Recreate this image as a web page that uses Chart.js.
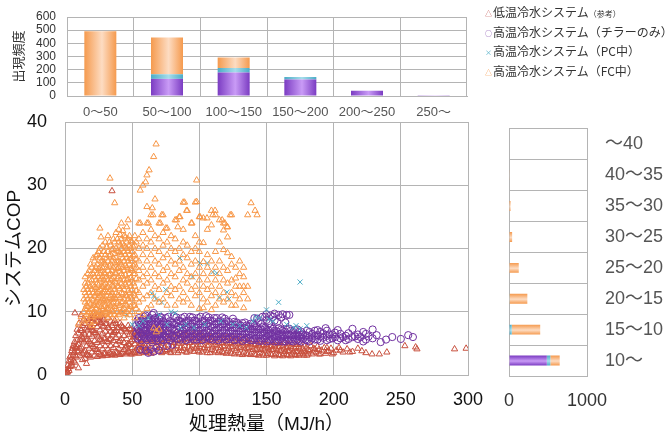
<!DOCTYPE html>
<html>
<head>
<meta charset="utf-8">
<script src="https://cdn.jsdelivr.net/npm/chart.js@4.4.1/dist/chart.umd.min.js"></script>
<style>
  body { margin: 0; background: #fff; }
  #wrap { position: relative; width: 668px; height: 434px; overflow: hidden; }
  canvas { position: absolute; }
  .legend { position: absolute; left: 485px; top: 2px; font-family: 'Noto Sans CJK JP', sans-serif; font-size: 12px; color: #333; }
  .legend div { height: 19.5px; line-height: 19.5px; white-space: nowrap; }
  .mk { display: inline-block; width: 8px; font-size: 7px; vertical-align: 1px; }
  .sm { font-size: 8px; }
</style>
</head>
<body>
<div id="wrap">
  <canvas id="histChart" width="480" height="125" style="left:0;top:0;width:480px;height:125px"></canvas>
  <canvas id="scatterChart" width="668" height="434" style="left:0;top:0;width:668px;height:434px"></canvas>
  <canvas id="copChart" width="178" height="334" style="left:490px;top:100px;width:178px;height:334px"></canvas>
  <div class="legend">
    <div><span class="mk" style="color:#C0504D">△</span>低温冷水システム<span class="sm">（参考）</span></div>
    <div><span class="mk" style="color:#7030A0">○</span>高温冷水システム（チラーのみ）</div>
    <div><span class="mk" style="color:#4BACC6">×</span>高温冷水システム（PC中）</div>
    <div><span class="mk" style="color:#F79646">△</span>高温冷水システム（FC中）</div>
  </div>
</div>
<script>
// --- histogram of load (top) ---
const histLabels = ['0～50', '50～100', '100～150', '150～200', '200～250', '250～'];
const histChiller = [0, 130, 178, 125, 40, 5];
const histPC = [3, 35, 35, 20, 0, 0];
const histFC = [488, 280, 79, 0, 0, 0];

// --- histogram of COP (right) ---
const copLabels = ['～40', '40～35', '35～30', '30～25', '25～20', '20～15', '15～10', '10～'];
const copChiller = [0, 0, 0, 0, 0, 0, 0, 485];
const copPC = [0, 0, 0, 0, 0, 8, 35, 45];
const copFC = [0, 5, 20, 40, 125, 227, 365, 120];

// --- scatter: [処理熱量 MJ/h, システムCOP] ---
const lowTempPts = [
  [0.5,0.3],[1,0.8],[1.5,0.4],[2,1.5],[2.5,1],[3,2.2],[3,0.7],[3.7,1.3],[4,3],[4.5,2.4],[5,3.8],[5,1.9],[5.5,1.4],[6,4.6],[6,3.1],[6.5,2.2],
  [7,5.2],[7,3.6],[7.4,9.8],[7.5,2],[8,6.2],[8,4.3],[8.5,2.8],[9,5.5],[9,7.2],[9.5,3.6],[10,1.1],[10,6.6],[10,4.8],[10.5,8.2],[11,5.6],[11,3.1],
  [11.5,7.3],[12,9.5],[12,4.4],[12.5,6.1],[13,2.4],[13,3.4],[13,7.8],[14,5.2],[15,2.6],[15,3.8],[15,6.4],[15,8.1],[16,4.6],[16,1.8],[17,3.1],
  [17,5.6],[17,7.1],[17,8.6],[18,4.2],[18,6.4],[19,2.8],[19,5],[19,7.5],[19,8.9],[20,3.6],[20,6.1],[21,4.5],[21,7],[21,9.1],[22,3.1],[22,5.4],
  [22,8.1],[23,4],[23,6.6],[24,2.9],[24,5.1],[24,7.6],[24,9.3],[25,3.6],[25,6.1],[25,8.5],[26,4.6],[26,7.1],[27,3.1],[27,5.5],[27,8.2],[27,9.5],
  [28,4.1],[28,6.6],[29,3.4],[29,5.8],[29,7.7],[29,8.8],[30,4.6],[30,6.9],[31,3.1],[31,5.3],[31,8.1],[32,4.1],[32,6.3],[32,9.1],[33,3.5],[33,5.6],
  [33,7.4],[34,4.6],[34,8.5],[35,3.2],[35,6.3],[35,7.8],[35,29.1],[36,4.3],[36,5.4],[37,3.1],[37,6.8],[37,8.6],[38,4.8],[38,5.9],[39,3.5],[39,7.4],
  [40,4.2],[40,6.3],[41,3.2],[41,5.4],[41,8.2],[42,4.6],[42,6.9],[43,3.6],[43,7.6],[44,5.1],[44,6.2],[45,3.3],[45,4.4],[45,7.1],[46,5.7],[47,3.7],
  [47,4.9],[47,7.8],[48,6.4],[49,3.3],[49,5.3],[49,7.2],[50,4.3],[51,3.6],[51,6],[51,6.9],[52,4.9],[53,3.9],[53,6.3],[54,5.4],[55,3.4],[55,4.6],
  [55,7],[56,5.9],[57,3.8],[57,5],[58,6.5],[59,4.3],[60,3.5],[60,5.5],[61,6.6],[62,4.6],[63,3.8],[63,5.8],[64,6.8],[65,4.9],[66,3.6],[66,5.7],
  [67,4.4],[68,6.3],[69,3.9],[69,5.1],[70,6.9],[71,4.6],[72,3.5],[72,5.6],[73,6.4],[74,4.3],[75,3.8],[75,5.3],[76,6.7],[77,4.7],[78,3.6],[78,5.8],
  [79,6.4],[80,4.4],[81,3.9],[81,5.1],[82,6.6],[83,4.6],[84,3.5],[84,5.6],[85,6.3],[86,4.3],[87,3.8],[87,5.2],[88,6.6],[89,4.6],[90,3.6],[90,5.7],
  [91,6.2],[92,4.4],[93,3.9],[93,5.1],[94,6.7],[95,4.7],[96,3.7],[96,5.8],[97,6.3],[98,4.4],[99,3.8],[99,5.3],[100,6.6],[101,4.8],[102,3.6],
  [102,5.7],[103,6.2],[104,4.3],[105,3.9],[105,5.2],[106,6.4],[107,4.7],[108,3.5],[108,5.6],[109,6.1],[110,4.4],[111,3.8],[111,5.2],[112,6.4],
  [113,4.6],[114,3.5],[114,5.5],[115,6.2],[116,4.3],[117,3.7],[117,5.1],[118,5.9],[119,4.6],[120,3.4],[120,5.4],[121,6.1],[122,4.2],[123,3.6],
  [123,5.1],[124,5.8],[125,4.5],[126,3.3],[126,5.3],[127,6],[128,4.2],[129,3.5],[129,5],[130,5.7],[131,4.4],[132,3.2],[132,5.1],[133,5.8],
  [134,4.1],[135,3.4],[135,4.9],[136,5.5],[137,4.3],[138,3.2],[138,5],[139,5.6],[140,4],[141,3.3],[141,4.8],[142,5.3],[143,4.2],[144,3.1],
  [144,4.9],[145,5.5],[146,4],[147,3.3],[147,4.6],[148,5.2],[149,4.1],[150,3.1],[150,4.8],[151,5.4],[152,3.9],[153,3.3],[153,4.5],[154,5.1],
  [155,4],[156,3],[156,4.7],[157,5.3],[158,3.8],[159,3.2],[159,4.4],[160,5],[161,3.9],[162,3],[162,4.6],[163,5.1],[164,3.7],[165,3.2],[165,4.3],
  [166,4.9],[167,3.8],[168,3],[168,4.5],[169,5],[170,3.6],[171,3.2],[171,4.2],[172,4.8],[173,3.7],[174,3.1],[174,4.4],[175,4.9],[176,3.6],
  [177,3.3],[177,4.2],[178,4.7],[179,3.6],[180,3.1],[180,4.4],[182,3.8],[183,4.6],[184,3.3],[186,4.1],[187,3.6],[188,4.5],[190,3.3],[191,3.9],
  [193,4.3],[194,3.4],[196,3.8],[198,4.2],[200,3.5],[202,3.9],[204,4.3],[207,3.6],[210,4.1],[214,3.7],[218,4.2],[221,3.8],[224,3.5],[228.6,3.3],
  [234,3.3],[239.6,3.6],[253,4.6],[261,4.4],[262,4.1],[290,4.1],[298.6,4.2],
  // denser part of the band
  [2,0.5],[3.5,2.8],[4.5,1.5],[5.5,4.2],[6.5,3.5],[7.5,4.5],[8,3],[9,4.5],[10,3.8],[11,4.2],[12,5.5],[12,7],[13,5.8],[14,3.6],[14,6.6],[14,8.8],
  [16,3.2],[16,5.5],[16,7.4],[18,3],[18,5.3],[18,7.6],[18,8.9],[20,4.8],[20,7.2],[20,8.5],[22,4.2],[22,6.7],[22,9.4],[24,4],[24,6.3],[24,8.5],
  [26,3.2],[26,5.6],[26,8.3],[26,9.2],[28,3],[28,5.3],[28,7.7],[28,9],[30,3.4],[30,5.8],[30,8.1],[32,3.1],[32,5.2],[32,7.5],[34,3.3],[34,5.7],
  [34,6.9],[36,3.3],[36,6.7],[36,8.2],[38,3.6],[38,7],[38,8.1],[40,3.3],[40,5.3],[40,7.5],[42,3.4],[42,5.7],[42,7.8],[44,4],[44,7.3],[46,3.5],
  [46,4.6],[46,6.8],[48,3.6],[48,4.8],[48,7.3],[50,3.3],[50,5.6],[50,6.6],[52,3.5],[52,6],[52,6.9],[54,3.6],[54,4.4],[54,6.6],[56,3.8],[56,4.9],
  [56,6.8],[58,3.6],[58,4.6],[58,5.6],[60,4.5],[60,6.5],[62,3.6],[62,5.5],[61,4.2],[64,5.2],[64,3.4],[67,5.3],[67,6.1],[70,4.3],[70,5.5],[73,3.7],
  [73,5],[76,4],[76,5.7],[79,3.5],[79,5.2],[82,4.1],[82,5.5],[85,3.8],[85,5],[88,4.2],[88,5.6],[91,3.6],[91,5.1],[94,4.1],[94,5.5],[97,4.2],[97,5.2],
  [100,3.6],[100,4.5],[100,5.8],[103,4.1],[103,5.4],[106,3.5],[106,4.6],[106,5.8],[109,4],[109,5.2],[112,3.6],[112,4.8],[112,5.7],[115,3.9],[115,5],
  [118,3.5],[118,4.5],[118,5.5],[121,3.8],[121,4.9],[124,3.4],[124,4.4],[124,5.4],[127,3.8],[127,4.7],[130,3.3],[130,4.3],[130,5.2],[133,3.6],
  [133,4.6],[136,3.3],[136,4.2],[136,5.1],[139,3.6],[139,4.5],[142,3.2],[142,4],[142,4.9],[145,3.5],[145,4.4],[148,3.1],[148,3.9],[148,4.8],
  [151,3.4],[151,4.3],[154,3.2],[154,4],[154,4.6],[157,3.4],[157,4.2],[160,3.1],[160,3.8],[160,4.5],[163,3.4],[163,4.1],[166,3.1],[166,3.8],
  [166,4.5],[169,3.3],[169,4.1],[172,3.1],[172,3.7],[172,4.4],[175,3.3],[175,4.1],[178,3.1],[178,3.8],[181,3.3],[181,4],[185,3.6],[185,4.2],
  [189,3.3],[189,4],[195,3.7],[195,4.3],[199,3.3],[205,3.9],[212,3.6]
];
const chillerPts = [
  [53,6.5],[53,7.8],[55,6],[55,7.1],[55,8.3],[55,9],[56,4],[57,5.5],[57,6.5],[57,7.6],[57,8.6],[59,6],[59,7],[59,8],[59,9.2],[60,3.9],[61,5.5],
  [61,6.6],[61,7.5],[61,8.5],[62,3.5],[63,6],[63,7],[63,8],[63,9],[64,4.1],[65,5.5],[65,6.5],[65,7.5],[65,8.5],[65,9.5],[66,3.7],[67,6],[67,7],
  [67,8],[67,9],[68,4.3],[69,5.5],[69,6.5],[69,7.5],[69,8.5],[70,3.9],[71,6],[71,7],[71,8],[71,9.2],[73,5.5],[73,6.5],[73,7.5],[73,8.5],[75,6],
  [75,7],[75,8],[75,9],[76,4.6],[78,5.5],[78,6.5],[78,7.5],[78,8.5],[80,4.8],[81,6],[81,7],[81,8],[81,9.3],[84,5.7],[84,6.7],[84,7.7],[84,8.6],
  [87,6],[87,7],[87,8],[87,9],[90,5.5],[90,6.5],[90,7.5],[90,8.5],[93,6],[93,7],[93,8],[93,9.2],[96,5.6],[96,6.6],[96,7.6],[96,8.6],[99,6],[99,7],
  [99,8],[99,9],[102,5.5],[102,6.5],[102,7.5],[102,8.5],[105,6],[105,7],[105,8],[105,9.3],[108,5.7],[108,6.7],[108,7.7],[108,8.6],[111,6],[111,7],
  [111,8],[111,9],[114,5.5],[114,6.5],[114,7.5],[114,8.4],[117,6],[117,7],[117,8],[117,9.1],[120,5.6],[120,6.6],[120,7.6],[120,8.5],[123,6],[123,7],
  [123,7.9],[126,5.5],[126,6.5],[126,7.5],[126,8.4],[129,6],[129,7],[129,8],[132,5.4],[132,6.4],[132,7.4],[132,8.2],[135,5.9],[135,6.9],[135,7.8],
  [138,5.5],[138,6.4],[138,7.3],[138,8.1],[141,5.8],[141,6.8],[141,7.7],[141,9],[144,5.4],[144,6.3],[144,7.2],[144,8.4],[147,5.8],[147,6.7],
  [147,7.6],[147,9.2],[150,5.3],[150,6.2],[150,7.1],[150,8.7],[150,9.6],[153,5.7],[153,6.6],[153,7.5],[153,9.4],[156,5.3],[156,6.1],[156,7],
  [156,8.6],[156,9.7],[159,5.6],[159,6.5],[159,7.4],[159,9.5],[162,5.3],[162,6.1],[162,7],[162,9.6],[165,5.6],[165,6.4],[165,7.2],[165,9.5],
  [168,5.4],[168,6.2],[168,7],[171,5.6],[171,6.3],[171,7.1],[174,5.4],[174,6.1],[174,6.8],[177,5.7],[177,6.4],[180,5.5],[180,6.2],[180,7],
  [184,5.8],[184,6.5],[188,5.6],[188,6.3],[188,7.1],[192,5.9],[192,6.6],[194,7.4],[197,5.7],[197,6.4],[201,6],[201,6.7],[205,5.8],[205,6.5],
  [209,6.2],[209,5.5],[214,7.3],[214,6],[218,6.4],[218,5.7],[222,6.8],[222,5.3],[226,6.1],[229,7.2],[229,5.8],[235,5.2],[239,5.6],[243.6,6],
  [250,5.7],[255.5,6.3],[259,6],
  // denser part of the band
  [54,5.8],[54,7.3],[54,8.6],[56,6.7],[56,7.9],[58,6.2],[58,7.2],[58,8.8],[60,5.8],[60,7],[60,8.2],[60,9.4],[62,6.3],[62,7.8],[62,8.8],[64,5.8],
  [64,7.2],[64,8.2],[66,6.3],[66,7.4],[66,8.8],[66,9.8],[68,5.8],[68,7.2],[68,8.3],[70,6.4],[70,7.6],[70,8.8],[72,5.6],[72,6.8],[72,8],[72,9],
  [74,6.2],[74,7.3],[74,8.3],[77,6],[77,7],[77,8],[77,9.2],[80,6.2],[80,7.3],[80,8.2],[83,6.2],[83,7.2],[83,8.2],[83,9.1],[86,5.6],[86,6.5],
  [86,7.5],[86,8.5],[89,6.2],[89,7.2],[89,8.2],[89,9.2],[92,5.7],[92,6.6],[92,7.6],[92,8.6],[95,6.1],[95,7.1],[95,8.1],[95,9.1],[98,5.6],[98,6.5],
  [98,7.5],[98,8.5],[101,6.1],[101,7.1],[101,8.1],[101,9.2],[104,5.7],[104,6.6],[104,7.6],[104,8.6],[107,6.1],[107,7.1],[107,8.2],[107,9.1],
  [110,5.6],[110,6.5],[110,7.5],[110,8.5],[113,6.1],[113,7.1],[113,8.1],[113,9],[116,5.7],[116,6.6],[116,7.6],[116,8.5],[119,6.1],[119,7.1],
  [119,8.1],[119,8.9],[122,5.7],[122,6.6],[122,7.5],[122,8.4],[125,6],[125,7],[125,8],[125,8.9],[128,5.6],[128,6.5],[128,7.4],[128,8.3],[131,6],
  [131,6.9],[131,7.8],[134,5.6],[134,6.5],[134,7.4],[134,8.3],[137,5.9],[137,6.8],[137,7.7],[140,5.5],[140,6.3],[140,7.2],[140,8.1],[143,5.8],
  [143,6.7],[143,7.6],[143,8.9],[146,5.4],[146,6.3],[146,7.2],[146,8.1],[149,5.8],[149,6.6],[149,7.5],[149,9.2],[152,5.4],[152,6.2],[152,7],
  [152,8.2],[155,5.7],[155,6.5],[155,7.3],[155,9.2],[158,5.3],[158,6.1],[158,6.9],[158,8.4],[161,5.7],[161,6.4],[161,7.2],[161,9.1],[164,5.3],
  [164,6],[164,6.8],[164,8.3],[167,5.6],[167,6.4],[167,7.3],[167,9.5],[170,5.3],[170,6],[170,6.8],[173,5.6],[173,6.4],[173,7.2],[176,5.3],
  [176,6],[176,6.8],[179,5.6],[179,6.3],[182,5.3],[182,6],[182,6.8],[186,5.6],[186,6.2],[186,7],[190,5.4],[190,6.1],[190,6.8],[195,5.5],[195,6.2],
  [195,7],[199,5.8],[199,6.4],[203,5.5],[203,7.1],[207,6],[211,5.7],[211,6.6],[216,6.1],[220,6],[224,5.6],[224,6.5],[232,6.3]
];
const pcPts = [
  [43,10],[46,9.5],[50,8],[55,7.8],[58,8.5],[62,9],[64.7,12.9],[66,12.5],[68,12],[70,9.5],[72,11.5],[75,13.5],[76,8],[79,10],[82,9.8],
  [85.6,18.5],[86,7.5],[90,8],[95,15.5],[96,7.5],[100.5,17.7],[104,8],[106,17.7],[110,16.3],[113,16.1],[115,12.2],[116,8.5],[120.6,13.1],
  [122,12],[125,8],[130,7.8],[135,7.5],[140,8.5],[142,9.2],[145,9],[150,10.3],[152,8.8],[155,8.5],[159,11.5],[165,8],[170,7.5],[172,7.8],
  [175,14.7],[175,7.3],[180,7.8]
];
const fcPts = [
  [10,8],[12,9.2],[14,8.5],[16,8.8],[18,8.2],[20,7.8],[22,8.5],[14,10],[14,12],[14,13.5],[16,9.5],[16,11],[16,12.5],[16,14],
  [18,10],[18,11.5],[18,13],[18,15],[18,16.5],[20,9.5],[20,10.5],[20,12],[20,13.5],[20,15],[20,17],
  [22,10],[22,11],[22,12.5],[22,14],[22,15.5],[22,16.5],[22,18],[24,9.5],[24,11],[24,12],[24,13],[24,14.5],[24,16],[24,17.5],[24,19],
  [26,10],[26,11.5],[26,12.5],[26,13.5],[26,15],[26,16],[26,17],[26,18.5],[26,20],[28,9.5],[28,10.5],[28,12],[28,13],[28,14],[28,15.5],[28,17],[28,18],[28,20.5],
  [30,10],[30,11],[30,12],[30,13.5],[30,14.5],[30,16],[30,17.5],[30,19],[30,21],[32,9],[32,10.5],[32,11.5],[32,13],[32,14],[32,15],[32,16.5],[32,18],[32,19.5],[32,22],
  [34,9.5],[34,11],[34,12.5],[34,13.5],[34,15],[34,16],[34,17.5],[34,19],[34,20.5],[36,10],[36,11.5],[36,12],[36,14],[36,15.5],[36,17],[36,18.5],[36,20],[36,21.5],
  [38,9],[38,10.5],[38,12],[38,13],[38,14.5],[38,16],[38,17],[38,18.5],[38,20],[38,22.5],[40,9.5],[40,11],[40,12.5],[40,14],[40,15.5],[40,17],[40,18],[40,19.5],[40,21],[40,23],
  [42,10],[42,11.5],[42,13],[42,14.5],[42,16],[42,17.5],[42,19],[42,20],[42,21.5],[42,24],[44,9],[44,10.5],[44,12],[44,13.5],[44,15],[44,16.5],[44,18],[44,19.5],[44,20.5],[44,22],
  [46,10],[46,11],[46,12.5],[46,14],[46,15],[46,17],[46,18.5],[46,20],[46,21],[46,23.4],[48,9.5],[48,11.5],[48,13],[48,14.5],[48,16],[48,17.5],[48,19],[48,20.5],[48,22],
  [50,10],[50,12],[50,13.5],[50,15],[50,16.5],[50,18],[50,19.5],[50,21],[52,9],[52,11],[52,12.5],[52,14],[52,16],[52,17.5],[52,19],[52,20.5],[52,22],
  [55,10],[55,11.5],[55,13],[55,15],[55,16.5],[55,18],[55,20],[55,21.5],[55,24],[58,9.5],[58,12],[58,14],[58,15.5],[58,17],[58,19],[58,20.5],[58,22.5],
  [61,10.5],[61,12.5],[61,14.5],[61,16],[61,18],[61,20],[61,21.5],[61,24],[61,26.6],[64,11],[64,13],[64,15],[64,17],[64,19],[64,21],[64,23],[64,25.3],
  [67,12],[67,14],[67,16],[67,18],[67,20],[67,22],[67,27.8],[70,11.5],[70,13.5],[70,15.5],[70,17.5],[70,19.5],[70,21.5],[70,24],
  [73,12],[73,14.5],[73,16.5],[73,18.5],[73,20.5],[73,22.5],[73,25.3],[76,11],[76,13],[76,15],[76,17],[76,19],[76,21],[76,23.2],
  [79,12.5],[79,14],[79,16],[79,18],[79,20],[79,22],[82,11],[82,13.5],[82,15.5],[82,17.5],[82,19.5],[82,21.5],[82,24.5],
  [85,12],[85,14],[85,16.5],[85,18],[85,20],[85,25],[88,11.5],[88,13],[88,15],[88,17],[88,19],[88,21],[88,23],[88,27.3],
  [91,12],[91,14.5],[91,16],[91,18.5],[91,20.5],[91,26],[94,11],[94,13.5],[94,15.5],[94,17.5],[94,19.5],[94,24],
  [97,12.5],[97,14],[97,16],[97,18],[97,20],[97,22],[97,27.3],[100,10.5],[100,13],[100,15],[100,17],[100,19.5],[100,21],[100,25],
  [103,10.6],[103,12],[103,14],[103,16],[103,17.9],[103,20.9],[103,24.8],[106,11.5],[106,13.5],[106,15],[106,17],[106,19],[106,23],
  [109,10.3],[109,12.5],[109,14],[109,16],[109,18],[109,23.7],[109,26],[112,11],[112,13],[112,15],[112,17],[112,19.5],[112,25.3],
  [115,12],[115,14],[115,16],[115,18],[115,21],[115,24.5],[118,11.5],[118,13],[118,15],[118,17],[118,19.8],[118,22.9],[118,24],
  [121,12],[121,14.5],[121,16.5],[121,19.3],[121,21.8],[121,23.4],[124,11],[124,13],[124,15],[124,17.5],[124,18.7],[124,25.3],
  [127,11],[127,12.5],[127,14],[127,15.3],[127,17],[130,12],[130,14],[130,16],[130,18],[133,10.6],[133,13],[133,14],[133,15.5],[133,17],
  [136,12],[136,14],[136,25.3],[138.5,27.2],[141.5,26],[143,25.3],
  [33.5,31.1],[37,27.2],[56,29.2],[58,30],[60,30.5],[61,31.6],[62.6,32.4],[66,34.5],[67.8,36.5],[98,30.8],[98,27.4],[26,23.2],[26.8,21.8],
  [47,24.5],[56,24],[62,24],[71,24],[83,24.5],[75,23.2],[89,27.3],[90.5,26],[85.6,25],[84,23.4],[65,26.4],[72,25.3],[65.5,25.3],[94.5,24],
  [100.5,25],[105.7,24.8],[110,25.3],[111.7,26],[117,24.5],[119,24],[120.6,23.4],[123,25.3],[66,7.4],[68,6.8],[70,7.2],
  // dense core of the cloud
  [15,10.5],[15,11.5],[15,13],[15,14.5],[15,15.5],[17,9.8],[17,10.8],[17,12],[17,13.5],[17,14.5],[17,16],
  [19,9.2],[19,10.3],[19,11.2],[19,12.5],[19,14],[19,15.8],[19,17.5],[21,9.8],[21,11],[21,11.8],[21,13],[21,14.2],[21,16],[21,18.5],
  [23,9.5],[23,10.5],[23,11.5],[23,12.8],[23,13.8],[23,15],[23,17],[23,18.8],[25,9.3],[25,10.2],[25,11.2],[25,12.2],[25,13.2],[25,14.2],[25,15.5],[25,16.8],[25,19.5],
  [27,9.8],[27,10.8],[27,11.8],[27,12.8],[27,14],[27,15.2],[27,16.5],[27,18],[27,19],[29,9.6],[29,10.8],[29,11.8],[29,13.2],[29,14.2],[29,15],[29,16.2],[29,17.8],[29,19.5],
  [31,9.8],[31,10.5],[31,11.8],[31,12.5],[31,13.8],[31,15.5],[31,17],[31,18.5],[31,20.2],[33,9.5],[33,10.2],[33,11.2],[33,12.2],[33,13.2],[33,14.5],[33,15.8],[33,17.2],[33,18.8],[33,21],
  [35,10.2],[35,11.2],[35,12],[35,13],[35,14.2],[35,15.2],[35,16.5],[35,18],[35,19.8],[37,9.5],[37,10.8],[37,12.2],[37,13.5],[37,14.8],[37,16.2],[37,17.8],[37,19.2],[37,21],
  [39,10],[39,11.3],[39,12.6],[39,14],[39,15.2],[39,16.8],[39,18],[39,19.6],[39,21.5],[41,9.8],[41,11],[41,12.2],[41,13.6],[41,15],[41,16.4],[41,17.8],[41,19.3],[41,20.5],[41,22.2],
  [43,10.2],[43,11.6],[43,12.8],[43,14],[43,15.6],[43,17],[43,18.5],[43,20.8],[43,22.8],[45,9.7],[45,11.2],[45,12.6],[45,14.3],[45,15.8],[45,17.3],[45,19],[45,20.2],[45,21.8],
  [47,10.4],[47,12],[47,13.3],[47,15.2],[47,16.6],[47,18],[47,19.6],[47,21.5],[49,10.8],[49,12.3],[49,14],[49,15.4],[49,16.8],[49,18.4],[49,20],[49,21.2],
  [51,11],[51,12.8],[51,14.5],[51,16],[51,17.2],[51,18.8],[51,20.2],[53,10.5],[53,12],[53,13.3],[53,15.2],[53,17],[53,18.3],[53,21]
];

const FONT = "'Liberation Sans', 'Noto Sans CJK JP', sans-serif";
Chart.defaults.font.family = FONT;
Chart.defaults.animation = false;
Chart.defaults.plugins.legend.display = false;
Chart.defaults.plugins.tooltip.enabled = false;
Chart.defaults.events = [];

const GRID = '#b4b4b4';

// bars look shaded: darker at the edges, light in the middle
function shade(edge, mid, across) {
    return (ctx) => {
        const el = ctx.element;
        if (!el || !isFinite(el.x) || !isFinite(el.y)) return edge;
        const c = ctx.chart.ctx;
        let g;
        if (across === 'x') {
            g = c.createLinearGradient(el.x - el.width / 2, 0, el.x + el.width / 2, 0);
        } else {
            g = c.createLinearGradient(0, el.y - el.height / 2, 0, el.y + el.height / 2);
        }
        g.addColorStop(0, edge);
        g.addColorStop(0.55, mid);
        g.addColorStop(1, edge);
        return g;
    };
}

const toXY = pts => pts.map(p => ({ x: p[0], y: p[1] }));

// top histogram
const histChart = new Chart(document.getElementById('histChart'), {
    type: 'bar',
    data: {
        labels: histLabels,
        datasets: [
            { label: 'チラーのみ', data: histChiller, backgroundColor: shade('#7B3CC2', '#C99BF6', 'x') },
            { label: 'PC中', data: histPC, backgroundColor: shade('#4BACC6', '#A6DDEB', 'x') },
            { label: 'FC中', data: histFC, backgroundColor: shade('#F59A4E', '#FDDCC2', 'x') }
        ]
    },
    options: {
        responsive: false,
        devicePixelRatio: 1,
        layout: { padding: { left: 0, top: 11, right: 13, bottom: 0 } },
        datasets: { bar: { categoryPercentage: 1, barPercentage: 0.48 } },
        scales: {
            x: {
                stacked: true,
                grid: { color: GRID, drawTicks: false },
                border: { color: GRID },
                ticks: { color: '#555', padding: 9, font: { size: 13 }, maxRotation: 0 },
                afterFit: s => { s.height = 29; }
            },
            y: {
                stacked: true, min: 0, max: 600,
                grid: { color: GRID, drawTicks: false },
                border: { color: GRID },
                ticks: { stepSize: 100, autoSkip: false, color: '#333', padding: 11, font: { size: 12, lineHeight: 1 } },
                title: { display: true, text: '出現頻度', color: '#333', font: { size: 13 }, padding: { top: 12 } },
                afterFit: s => { s.width = 67; }
            }
        }
    }
});

// main scatter
const scatterChart = new Chart(document.getElementById('scatterChart'), {
    type: 'scatter',
    data: {
        datasets: [
            { label: '高温冷水システム（FC中）', data: toXY(fcPts), pointStyle: 'triangle', borderColor: '#F79646', order: 0 },
            { label: '高温冷水システム（PC中）', data: toXY(pcPts), pointStyle: 'crossRot', borderColor: '#4BACC6', order: 1 },
            { label: '高温冷水システム（チラーのみ）', data: toXY(chillerPts), pointStyle: 'circle', borderColor: '#7030A0', order: 2 },
            { label: '低温冷水システム（参考）', data: toXY(lowTempPts), pointStyle: 'triangle', borderColor: '#C8503E', order: 3 }
        ]
    },
    options: {
        responsive: false,
        devicePixelRatio: 1,
        layout: { padding: { left: 0, top: 122, right: 200, bottom: 0 } },
        elements: { point: { radius: 3.6, borderWidth: 1, backgroundColor: 'rgba(0,0,0,0)' } },
        scales: {
            x: {
                type: 'linear', min: 0, max: 300,
                grid: { color: GRID, drawTicks: false },
                border: { color: GRID },
                ticks: { stepSize: 50, color: '#111', padding: 14, font: { size: 18 } },
                title: { display: true, text: '処理熱量（MJ/h）', color: '#111', font: { size: 19, lineHeight: 1 }, padding: 0 },
                afterFit: s => { s.height = 59; }
            },
            y: {
                min: 0, max: 40,
                grid: { color: GRID, drawTicks: false },
                border: { color: GRID },
                ticks: { stepSize: 10, color: '#111', padding: 18, font: { size: 18 } },
                title: { display: true, text: 'システムCOP', color: '#111', font: { size: 19 }, padding: { top: 3 } },
                afterFit: s => { s.width = 65; }
            }
        }
    }
});

// right histogram of COP
const copChart = new Chart(document.getElementById('copChart'), {
    type: 'bar',
    data: {
        labels: copLabels,
        datasets: [
            { label: 'チラーのみ', data: copChiller, backgroundColor: shade('#7B3CC2', '#C99BF6', 'y') },
            { label: 'PC中', data: copPC, backgroundColor: shade('#4BACC6', '#A6DDEB', 'y') },
            { label: 'FC中', data: copFC, backgroundColor: shade('#F59A4E', '#FDDCC2', 'y') }
        ]
    },
    options: {
        indexAxis: 'y',
        responsive: false,
        devicePixelRatio: 1,
        layout: { padding: { left: 12, top: 23, right: 0, bottom: 0 } },
        datasets: { bar: { categoryPercentage: 1, barPercentage: 0.32 } },
        scales: {
            x: {
                stacked: true, min: 0, max: 1000,
                grid: { color: GRID, drawTicks: false },
                border: { color: GRID },
                ticks: { stepSize: 1000, color: '#333', padding: 14, font: { size: 18 }, callback: v => String(v) },
                afterFit: s => { s.height = 58; }
            },
            y: {
                stacked: true, position: 'right',
                grid: { color: GRID, drawTicks: false },
                border: { color: GRID },
                ticks: { color: '#555', padding: 18, font: { size: 18 } },
                afterFit: s => { s.width = 81; }
            }
        }
    }
});

// second pass so the shaded fills see the laid-out bars
histChart.update();
copChart.update();
</script>
</body>
</html>
